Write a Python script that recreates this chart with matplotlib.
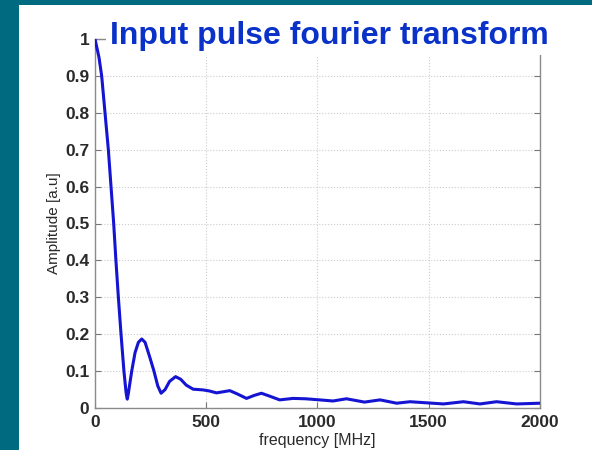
import matplotlib
matplotlib.use("Agg")
import matplotlib.pyplot as plt
from matplotlib.patches import Rectangle

# spectrum magnitude of the input pulse, sampled along the curve
freq_mhz = [0, 18, 30, 45, 60, 72, 84, 94, 105, 117, 130, 140, 145, 150, 165,
            180, 195, 210, 225, 245, 265, 282, 297, 315, 335, 362, 385, 410,
            441, 486, 515, 546, 606, 640, 681, 715, 748, 790, 830, 890, 946,
            1010, 1070, 1130, 1211, 1281, 1356, 1416, 1491, 1566, 1656, 1730,
            1805, 1895, 2000]
amplitude = [1.0, 0.95, 0.90, 0.80, 0.70, 0.60, 0.50, 0.40, 0.30, 0.20, 0.10,
             0.04, 0.024, 0.04, 0.10, 0.15, 0.178, 0.187, 0.178, 0.14, 0.10,
             0.06, 0.04, 0.05, 0.072, 0.085, 0.078, 0.062, 0.051, 0.049, 0.046,
             0.041, 0.047, 0.038, 0.026, 0.034, 0.040, 0.031, 0.022, 0.026,
             0.025, 0.022, 0.019, 0.025, 0.016, 0.022, 0.013, 0.017, 0.014,
             0.011, 0.017, 0.011, 0.017, 0.011, 0.013]

xticks = [0, 500, 1000, 1500, 2000]
yticks = [0, 0.1, 0.2, 0.3, 0.4, 0.5, 0.6, 0.7, 0.8, 0.9, 1]
ytick_labels = ["0", "0.1", "0.2", "0.3", "0.4", "0.5", "0.6", "0.7", "0.8", "0.9", "1"]

plt.rcParams["font.family"] = ["Liberation Sans", "DejaVu Sans"]

fig = plt.figure(figsize=(5.92, 4.5), dpi=100)
fig.patch.set_facecolor("#006a80")
# white slide panel
fig.add_artist(Rectangle((19 / 592, 0), 1 - 19 / 592, 1 - 5 / 450,
                         transform=fig.transFigure, facecolor="white",
                         edgecolor="none", zorder=0))

ax = fig.add_axes([95 / 592, 1 - 408 / 450, (540 - 95) / 592, (408 - 39) / 450])
ax.set_facecolor("white")
ax.plot(freq_mhz, amplitude, color="#1414d2", lw=2.2, solid_joinstyle="round",
        solid_capstyle="round", zorder=3)

ax.set_xlim(0, 2000)
ax.set_ylim(0, 1)
ax.set_xticks(xticks)
ax.set_yticks(yticks)
ax.set_yticklabels(ytick_labels)
ax.grid(True, color="#cccccc", ls=":", lw=0.8)
ax.tick_params(direction="in", length=4, color="#777777", top=True, right=True,
               labelsize=12.5, labelcolor="#2a2a2a")
ax.tick_params(axis="x", pad=5)
ax.tick_params(axis="y", pad=4)
for lbl in ax.get_xticklabels() + ax.get_yticklabels():
    lbl.set_fontweight("bold")
for sp in ax.spines.values():
    sp.set_color("#8a8a8a")
    sp.set_linewidth(1.0)

ax.set_xlabel("frequency [MHz]", fontsize=11.5, color="#2a2a2a", labelpad=2)
ax.set_ylabel("Amplitude [a.u]", fontsize=11, color="#2a2a2a", labelpad=3)

# title sits over the top of the frame on a white box
fig.text(110 / 592, 1 - 44 / 450, "Input pulse fourier transform",
         fontsize=23, fontweight="bold", color="#0a32c8", ha="left",
         va="baseline", zorder=5,
         bbox=dict(facecolor="white", edgecolor="none", pad=3))

fig.savefig("out.png", dpi=100, facecolor=fig.get_facecolor())
